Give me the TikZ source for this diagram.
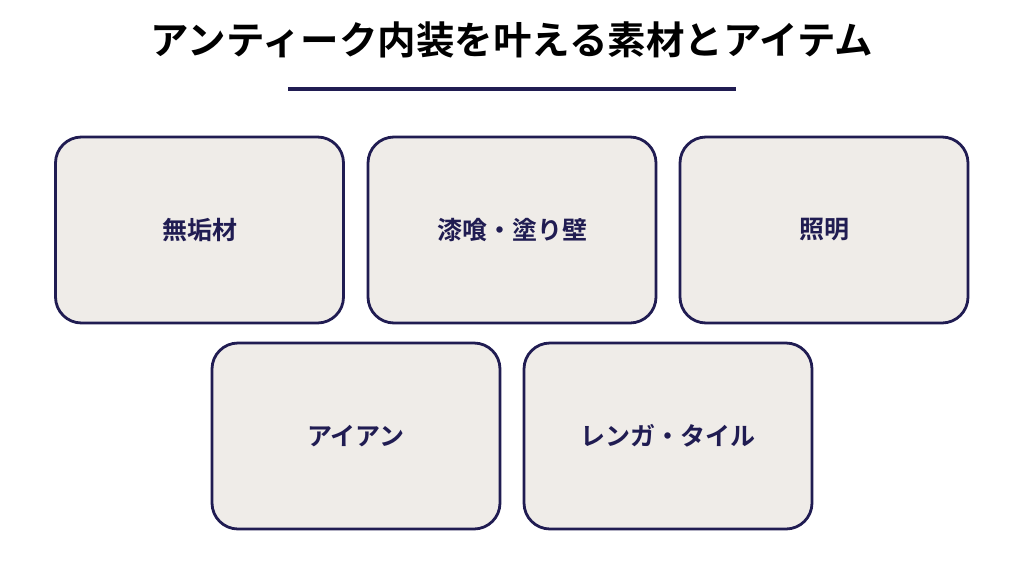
\documentclass[tikz,border=0pt]{standalone}
\usepackage{fontspec}
\newfontfamily\jpb{Noto Sans CJK JP Bold}
\definecolor{navy}{HTML}{201C52}
\definecolor{boxfill}{HTML}{EFECE8}
\begin{document}
\begin{tikzpicture}[x=1pt,y=1pt,
  item/.style={draw=navy,line width=2.8pt,fill=boxfill,rounded corners=26pt,
    minimum width=288pt,minimum height=186pt,inner sep=0pt,
    font=\jpb\fontsize{25}{30}\selectfont,text=navy},
  titletext/.style={font=\jpb\fontsize{38.5}{44}\selectfont,text=black,inner sep=0pt}]
\useasboundingbox[fill=white] (0,0) rectangle (1024,-576);
\node[titletext] (title) at (512,-40) {アンティーク内装を叶える素材とアイテム};
\coordinate (ruleL) at (288,-89);
\coordinate (ruleR) at (736,-89);
\draw[navy,line width=4pt] (ruleL) -- (ruleR);
\node[item] (b1) at (199.5,-230) {無垢材};
\node[item] (b2) at (512,-230) {漆喰・塗り壁};
\node[item] (b3) at (824,-230) {照明};
\node[item] (b4) at (356,-436) {アイアン};
\node[item] (b5) at (668,-436) {レンガ・タイル};
\end{tikzpicture}
\end{document}
